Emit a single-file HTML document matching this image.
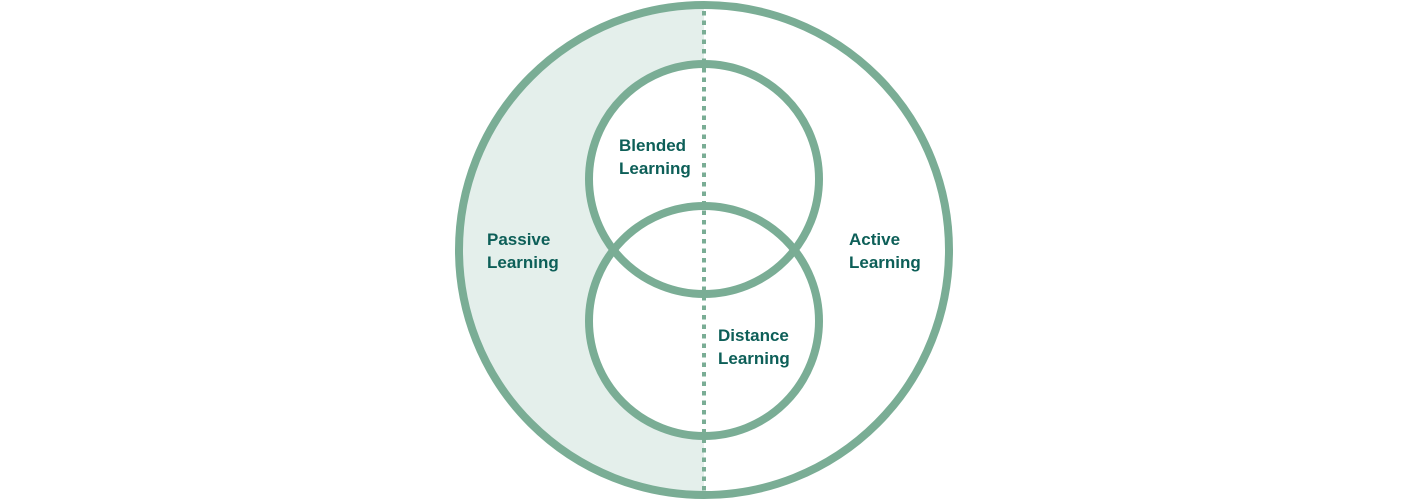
<!DOCTYPE html>
<html><head><meta charset="utf-8"><style>
html,body{margin:0;padding:0;background:#fff;}
svg{display:block;}
text{font-family:"Liberation Sans",sans-serif;font-size:17px;font-weight:bold;fill:#0d5f58;}
</style></head><body>
<svg width="1408" height="500" viewBox="0 0 1408 500">
<defs><clipPath id="c"><circle cx="704" cy="250" r="245"/></clipPath></defs>
<rect x="400" y="0" width="304" height="500" fill="#e4efeb" clip-path="url(#c)"/>
<circle cx="704" cy="179" r="115" fill="#fff"/>
<circle cx="704" cy="321" r="115" fill="#fff"/>
<g fill="none" stroke="#7aad95" stroke-width="8">
<circle cx="704" cy="250" r="245"/>
<circle cx="704" cy="179" r="115"/>
<circle cx="704" cy="321" r="115"/>
</g>
<line x1="704" y1="11" x2="704" y2="494" stroke="#7aad95" stroke-width="4" stroke-dasharray="4.5 5"/>
<text x="619" y="151">Blended</text><text x="619" y="174">Learning</text>
<text x="487" y="245">Passive</text><text x="487" y="268">Learning</text>
<text x="849" y="245">Active</text><text x="849" y="268">Learning</text>
<text x="718" y="341">Distance</text><text x="718" y="364">Learning</text>
</svg>
</body></html>
